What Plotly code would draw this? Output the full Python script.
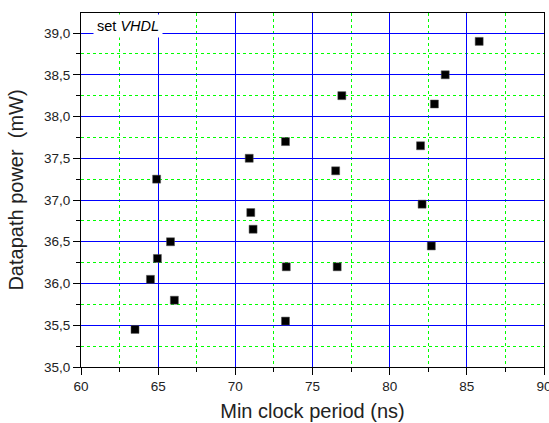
import plotly.graph_objects as go

# Minimum clock period (ns) and datapath power (mW) of each design point
clock_period = [85.8, 83.6, 76.9, 82.9, 73.25, 82.0, 70.9, 76.5, 64.9, 82.1, 71.0,
                71.15, 65.8, 82.7, 64.95, 73.3, 76.6, 64.5, 66.05, 73.25, 63.5]
power = [38.9, 38.5, 38.25, 38.15, 37.7, 37.65, 37.5, 37.35, 37.25, 36.95, 36.85,
         36.65, 36.5, 36.45, 36.3, 36.2, 36.2, 36.05, 35.8, 35.55, 35.45]

x_ticks = [60, 65, 70, 75, 80, 85, 90]
y_ticks = [35.0, 35.5, 36.0, 36.5, 37.0, 37.5, 38.0, 38.5, 39.0]

FONT = "Liberation Sans, Arial, sans-serif"
MAJOR = "#0000ff"
MINOR = "#00ff00"

fig = go.Figure()
fig.add_trace(go.Scatter(
    x=clock_period, y=power, mode="markers",
    marker=dict(symbol="square", size=8, color="black",
                line=dict(color="#555555", width=0.5)),
    showlegend=False, cliponaxis=False,
))

axis_common = dict(
    showline=True, linecolor="black", linewidth=1, mirror=True,
    ticks="outside", ticklen=7, tickwidth=1, tickcolor="black",
    showgrid=True, gridcolor=MAJOR, gridwidth=1,
    zeroline=False, tickmode="linear", automargin=False,
    ticklabeloverflow="allow",
    tickfont=dict(family=FONT, size=13.5, color="#222222"),
)

x_step = x_ticks[1] - x_ticks[0]
y_step = y_ticks[1] - y_ticks[0]

fig.update_xaxes(
    **axis_common,
    range=[x_ticks[0], x_ticks[-1]], tick0=x_ticks[0], dtick=x_step,
    minor=dict(dtick=x_step / 2, ticks="outside", ticklen=4, tickcolor="black",
               showgrid=True, gridcolor=MINOR, griddash="dot", gridwidth=1),
    title=dict(text="Min clock period (ns)", standoff=10,
               font=dict(family=FONT, size=20, color="#222222")),
)
fig.update_yaxes(
    **axis_common,
    range=[y_ticks[0], 39.24], tick0=y_ticks[0], dtick=y_step,
    tickformat=".1f",
    minor=dict(dtick=y_step / 2, ticks="outside", ticklen=4, tickcolor="black",
               showgrid=True, gridcolor=MINOR, griddash="dot", gridwidth=1),
    title=dict(text="Datapath power\u00a0 (mW)", standoff=15,
               font=dict(family=FONT, size=20, color="#222222")),
)

fig.add_annotation(
    xref="paper", yref="paper", x=0.0, y=1.0, xanchor="left", yanchor="top",
    text="set <i>VHDL</i>", showarrow=False,
    font=dict(family=FONT, size=14.5, color="black"),
    bgcolor="white", borderpad=3, xshift=12, yshift=-1,
)

fig.update_layout(
    width=549, height=423,
    margin=dict(l=81, r=5, t=13, b=56, autoexpand=False),
    paper_bgcolor="white", plot_bgcolor="white",
    separators=",.",
)

fig.write_html("out.html")
